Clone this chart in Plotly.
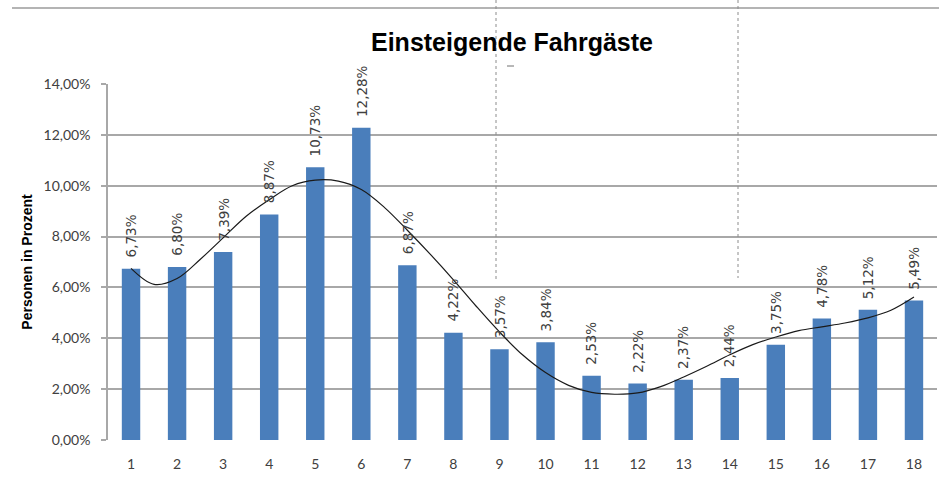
import plotly.graph_objects as go

# Haltestellen 1..18 and share of boarding passengers (percent)
stops = list(range(1, 19))
share = [6.73, 6.80, 7.39, 8.87, 10.73, 12.28, 6.87, 4.22, 3.57,
         3.84, 2.53, 2.22, 2.37, 2.44, 3.75, 4.78, 5.12, 5.49]

# Trend curve, sampled along the stop axis
trend_x = [1, 1.5, 2, 2.5, 3, 3.5, 4, 4.5, 5, 5.5, 6, 6.5, 7, 7.5, 8, 8.5, 9,
           9.5, 10, 10.5, 11, 11.5, 12, 12.5, 13, 13.5, 14, 14.5, 15, 15.5,
           16, 16.5, 17, 17.5, 18]
trend_y = [6.75, 6.12, 6.35, 7.1, 7.95, 8.8, 9.45, 10.0, 10.22, 10.18, 9.85,
           9.15, 8.25, 7.3, 6.3, 5.25, 4.25, 3.35, 2.65, 2.15, 1.87, 1.8, 1.85,
           2.1, 2.48, 2.9, 3.35, 3.75, 4.05, 4.3, 4.45, 4.6, 4.8, 5.1, 5.62]

y_ticks = [0, 2, 4, 6, 8, 10, 12, 14]


def pct(v):
    return f"{v:.2f}".replace(".", ",") + "%"


W, H = 939, 479
ML, MR, MT, MB = 108, 2, 84, 39
PW, PH = W - ML - MR, H - MT - MB


def px(x):
    return (x - ML) / PW


def py(y):
    return (H - MB - y) / PH


LABEL_FONT = dict(family="DejaVu Sans, sans-serif", size=13.5, color="#404040")

fig = go.Figure()
fig.add_trace(go.Bar(
    x=stops, y=share,
    marker=dict(color="#4a7ebb", line=dict(width=0)),
    hoverinfo="x+y",
))
fig.add_trace(go.Scatter(
    x=trend_x, y=trend_y, mode="lines",
    line=dict(color="#1a1a1a", width=1.2, shape="spline", smoothing=1.0),
    hoverinfo="skip",
))

# value labels, rotated, sitting a little above each bar
annotations = [
    dict(x=s, y=v, xref="x", yref="y", text=pct(v), showarrow=False,
         textangle=-90, xanchor="center", yanchor="bottom", yshift=9,
         font=LABEL_FONT)
    for s, v in zip(stops, share)
]

shapes = [
    # frame line across the top of the sheet
    dict(type="line", xref="paper", yref="paper", x0=px(12), x1=px(939),
         y0=py(8), y1=py(8), line=dict(color="#b4b4b4", width=2)),
    # dotted page-break markers
    dict(type="line", xref="paper", yref="paper", x0=px(496), x1=px(496),
         y0=py(0), y1=py(282), line=dict(color="#8c8c8c", width=1, dash="dot")),
    dict(type="line", xref="paper", yref="paper", x0=px(738), x1=px(738),
         y0=py(0), y1=py(278), line=dict(color="#8c8c8c", width=1, dash="dot")),
    dict(type="line", xref="paper", yref="paper", x0=px(507), x1=px(514),
         y0=py(66), y1=py(66), line=dict(color="#707070", width=1)),
]

fig.update_layout(
    width=W, height=H,
    margin=dict(l=ML, r=MR, t=MT, b=MB, pad=0),
    paper_bgcolor="white", plot_bgcolor="white",
    showlegend=False,
    bargap=0.6,
    shapes=shapes,
    annotations=annotations,
    title=dict(
        text="<b>Einsteigende Fahrgäste</b>",
        font=dict(family="Liberation Sans, Arial, sans-serif", size=25, color="#000000"),
        x=px(512), xref="paper", xanchor="center",
        y=1 - 42 / H, yref="container", yanchor="middle",
    ),
    xaxis=dict(
        range=[0.5, 18.5],
        tickvals=stops, ticktext=[str(s) for s in stops],
        showgrid=False, zeroline=False,
        showline=False, ticks="",
        ticklabelstandoff=14,
        tickfont=dict(family="Lato, Open Sans, sans-serif", size=14, color="#404040"),
    ),
    yaxis=dict(
        range=[0, 14],
        tickvals=y_ticks, ticktext=[pct(v) for v in y_ticks],
        showgrid=True, gridcolor="#a8a8a8", gridwidth=1.5,
        zeroline=False,
        showline=True, linecolor="#a8a8a8", linewidth=1.5,
        ticks="outside", ticklen=5, tickcolor="#a8a8a8", tickwidth=1.5,
        ticklabelstandoff=8,
        tickfont=dict(family="Lato, Open Sans, sans-serif", size=14, color="#404040"),
        title=dict(text="<b>Personen in Prozent</b>",
                   font=dict(family="Liberation Sans, Arial, sans-serif", size=14, color="#000000"),
                   standoff=8),
    ),
)

fig.write_html("out.html")
